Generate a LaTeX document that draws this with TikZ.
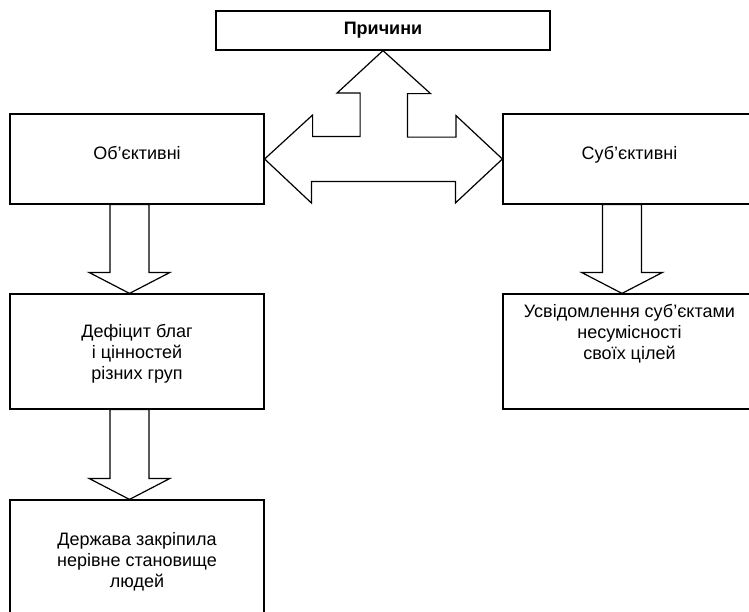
\documentclass[tikz,border=0pt]{standalone}
\usepackage{fontspec}
\setmainfont{Liberation Sans}
\usepackage{tikz}
\usetikzlibrary{calc,positioning}
\tikzset{
  cbox/.style={draw=black,fill=white,line width=1.2pt,inner sep=0pt,align=center},
  ctext/.style={inner sep=0pt,align=center,anchor=north},
  barrow/.style={draw=black,fill=white,line width=1.2pt,line join=miter}
}
% hollow block arrow pointing down, from the lower side of one box to the top of the next
\newcommand{\blockdown}[2]{%
  \draw[barrow] let \p1=($(#1)+(-7.5,0)$), \p2=($(#2)+(-7.5,0)$) in
    (\x1-19.5pt,\y1) -- (\x1-19.5pt,\y2+21pt) -- (\x1-40.5pt,\y2+21pt) -- (\x1,\y2)
    -- (\x1+40.5pt,\y2+21pt) -- (\x1+19.5pt,\y2+21pt) -- (\x1+19.5pt,\y1) -- cycle;}

\begin{document}
\begin{tikzpicture}[x=1pt,y=-1pt,font=\fontsize{18}{21}\selectfont]
  \path[use as bounding box,fill=white] (0,0) rectangle (749,611);
  \clip (0,0) rectangle (749,611);
  \node[cbox,minimum width=334,minimum height=39] (cause) at (383,30.5) {\textbf{Причини}};
  \node[cbox,minimum width=254,minimum height=90,text depth=12pt] (obj) at (137,159) {Об’єктивні};
  \node[cbox,minimum width=253,minimum height=90,text depth=12pt] (subj) at (629.5,159) {Суб’єктивні};
  \node[cbox,minimum width=254,minimum height=115] (lack) at (137,351.5) {};
  \node[ctext] (lacktxt) at ($(lack.north)+(0,31)$) {Дефіцит благ\\ і цінностей\\ різних груп};
  \node[cbox,minimum width=253,minimum height=115] (aware) at (629.5,351.5) {};
  \node[ctext] (awaretxt) at ($(aware.north)+(0,11)$) {Усвідомлення суб’єктами\\ несумісності\\ своїх цілей};
  \node[cbox,minimum width=254,minimum height=124] (state) at (137,562) {};
  \node[ctext] (statetxt) at ($(state.north)+(0,33)$) {Держава закріпила\\ нерівне становище\\ людей};
  % three-way arrow between the causes
  \draw[barrow] (cause.south) -- ++(47.5,43) -- ++(-23,0) -- ++(0,43.5) -- ++(48.5,0) -- ++(0,-21.5)
    -- (subj.west) -- ++(-47,44) -- ++(0,-21.5) -- ++(-144,0) -- ++(0,21.5)
    -- (obj.east) -- ++(48,-44) -- ++(0,21.5) -- ++(47.5,0) -- ++(0,-43.5) -- ++(-23,0) -- cycle;
  \blockdown{obj.south}{lack.north}
  \blockdown{lack.south}{state.north}
  \blockdown{subj.south}{aware.north}
\end{tikzpicture}
\end{document}
